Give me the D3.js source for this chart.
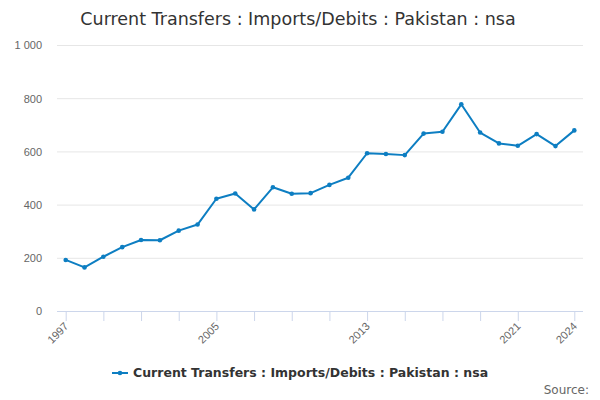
<!DOCTYPE html>
<html>
<head>
<meta charset="utf-8">
<script src="https://cdn.jsdelivr.net/npm/d3@7/dist/d3.min.js"></script>
<style>
  body { margin: 0; background: #fff; }
  svg { font-family: "DejaVu Sans", sans-serif; display: block; }
</style>
</head>
<body>
<div id="chart"></div>
<script>
'use strict';

// the data
var years = [1997, 1998, 1999, 2000, 2001, 2002, 2003, 2004, 2005, 2006, 2007, 2008, 2009, 2010,
             2011, 2012, 2013, 2014, 2015, 2016, 2017, 2018, 2019, 2020, 2021, 2022, 2023, 2024];
var values = [192, 164, 204, 240, 267, 266, 302, 325, 422, 442, 382, 465, 441, 443,
              474, 501, 593, 590, 586, 667, 674, 777, 671, 630, 621, 665, 620, 679];
var yTicks = [0, 200, 400, 600, 800, 1000];
var xTicks = [1997, 1999, 2001, 2003, 2005, 2007, 2009, 2011, 2013, 2015, 2017, 2019, 2021, 2024];
var xLabels = [1997, 2005, 2013, 2021, 2024];
var seriesName = 'Current Transfers : Imports/Debits : Pakistan : nsa';

var width = 600, height = 400;
var plot = {left: 57, right: 583, top: 45, bottom: 311};
var pad = 8.7;
var lineColor = '#0d7ec2';

var svg = d3.select('#chart')
  .append('svg')
    .attr('width', width)
    .attr('height', height);

// set the ranges
var x = d3.scaleLinear()
    .domain([1997, 2024])
    .range([plot.left + pad, plot.right - pad]);
var y = d3.scaleLinear()
    .domain([0, 1000])
    .range([plot.bottom, plot.top]);

// title
svg.append('text')
    .attr('x', 298)
    .attr('y', 25)
    .attr('text-anchor', 'middle')
    .attr('fill', '#333')
    .style('font-size', '17.5px')
    .text(seriesName);

// gridlines + y labels
var yAxis = svg.append('g')
    .attr('transform', 'translate(' + plot.left + ',0)')
    .call(d3.axisLeft(y)
      .tickValues(yTicks)
      .tickSize(-(plot.right - plot.left))
      .tickPadding(15)
      .tickFormat(function(d) { return d3.format(',')(d).replace(',', ' '); }));
yAxis.select('.domain').remove();
yAxis.selectAll('.tick line')
    .attr('stroke', '#e6e6e6')
    .filter(function(d) { return d === 0; }).remove();
yAxis.selectAll('.tick text')
    .attr('fill', '#666')
    .attr('dy', '0.35em')
    .style('font-size', '11px');

// x axis
var xAxis = svg.append('g')
    .attr('transform', 'translate(0,' + plot.bottom + ')')
    .call(d3.axisBottom(x)
      .tickValues(xTicks)
      .tickSize(10)
      .tickSizeOuter(0)
      .tickFormat(function(d) { return xLabels.indexOf(d) >= 0 ? d : ''; }));
xAxis.select('.domain')
    .attr('stroke', '#ccd6eb')
    .attr('d', 'M' + plot.left + ',0.5H' + plot.right);
xAxis.selectAll('.tick line').attr('stroke', '#ccd6eb');
xAxis.selectAll('.tick text')
    .attr('fill', '#666')
    .style('font-size', '11px')
    .attr('text-anchor', 'end')
    .attr('x', 0)
    .attr('y', 0)
    .attr('dy', 0)
    .attr('transform', 'translate(3,16) rotate(-45)');

// the line
var valueline = d3.line()
    .x(function(d, i) { return x(years[i]); })
    .y(function(d) { return y(d); });

svg.append('path')
    .datum(values)
    .attr('fill', 'none')
    .attr('stroke', lineColor)
    .attr('stroke-width', 2)
    .attr('stroke-linejoin', 'round')
    .attr('stroke-linecap', 'round')
    .attr('d', valueline);

svg.selectAll('circle.pt')
    .data(values)
  .enter().append('circle')
    .attr('class', 'pt')
    .attr('cx', function(d, i) { return x(years[i]); })
    .attr('cy', function(d) { return y(d); })
    .attr('r', 2.3)
    .attr('fill', lineColor);

// legend
var legend = svg.append('g').attr('transform', 'translate(112,373)');
legend.append('line')
    .attr('x1', 0).attr('x2', 16)
    .attr('y1', 0).attr('y2', 0)
    .attr('stroke', lineColor)
    .attr('stroke-width', 2);
legend.append('circle')
    .attr('cx', 8).attr('cy', 0).attr('r', 2.3)
    .attr('fill', lineColor);
legend.append('text')
    .attr('x', 21)
    .attr('y', 0)
    .attr('dy', '0.35em')
    .attr('fill', '#333')
    .style('font-size', '12.5px')
    .style('font-weight', 'bold')
    .text(seriesName);

// credits
svg.append('text')
    .attr('x', 589)
    .attr('y', 394)
    .attr('text-anchor', 'end')
    .attr('fill', '#666')
    .style('font-size', '12px')
    .text('Source:');
</script>
</body>
</html>
